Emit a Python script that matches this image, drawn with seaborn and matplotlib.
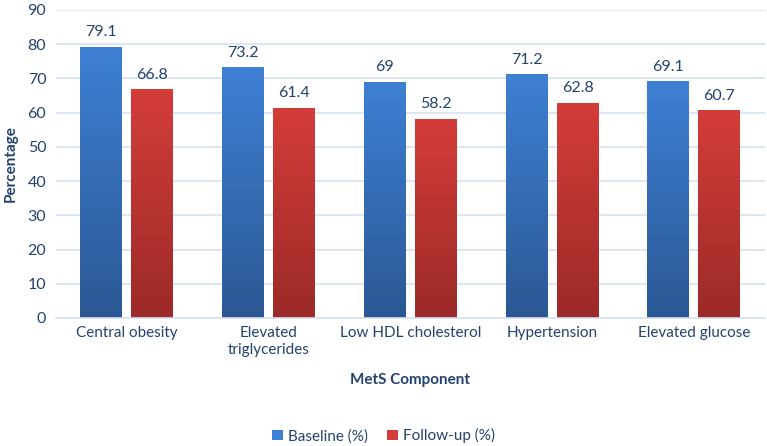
import numpy as np
import pandas as pd
import matplotlib.pyplot as plt
import seaborn as sns
from matplotlib.colors import LinearSegmentedColormap
from matplotlib.patches import Patch

# data
components = ['Central obesity', 'Elevated\ntriglycerides', 'Low HDL cholesterol',
              'Hypertension', 'Elevated glucose']
baseline = [79.1, 73.2, 69.0, 71.2, 69.1]
follow_up = [66.8, 61.4, 58.2, 62.8, 60.7]
baseline_labels = ['79.1', '73.2', '69', '71.2', '69.1']
follow_labels = ['66.8', '61.4', '58.2', '62.8', '60.7']
series = ['Baseline (%)', 'Follow-up (%)']

df = pd.DataFrame({
    'Component': components * 2,
    'Series': [series[0]] * 5 + [series[1]] * 5,
    'Value': baseline + follow_up,
})

sns.set_style('white')
plt.rcParams['font.family'] = ['Lato', 'DejaVu Sans']

text_col = '#24426f'
grid_col = '#d5e2f2'
tops = {series[0]: '#3e80d4', series[1]: '#d43d39'}
bottoms = {series[0]: '#2b5894', series[1]: '#9b2a28'}

fig = plt.figure(figsize=(7.67, 4.46), dpi=100)
ax = fig.add_axes([0.073, 0.287, 0.924, 0.691])

sns.barplot(data=df, x='Component', y='Value', hue='Series',
            palette=[tops[s] for s in series], width=0.72, gap=0.18,
            ax=ax, legend=False, zorder=2)

ax.set_ylim(0, 90)
ax.set_yticks(range(0, 91, 10))
ax.yaxis.grid(True, color=grid_col, linewidth=1.2, zorder=0)
ax.set_axisbelow(True)
for s in ['top', 'right', 'left']:
    ax.spines[s].set_visible(False)
ax.spines['bottom'].set_color(grid_col)
ax.spines['bottom'].set_linewidth(1.2)
ax.tick_params(axis='both', length=0, labelsize=11, labelcolor=text_col, pad=6)
ax.tick_params(axis='y', labelsize=11.5, pad=7)

# gradient fill for each bar
for container, s, labels in zip(ax.containers, series, [baseline_labels, follow_labels]):
    cmap = LinearSegmentedColormap.from_list(s, [bottoms[s], tops[s]])
    grad = np.linspace(0, 1, 256).reshape(-1, 1)
    for bar, lab in zip(container, labels):
        x0, w, h = bar.get_x(), bar.get_width(), bar.get_height()
        bar.set_facecolor('none')
        bar.set_edgecolor('none')
        im = ax.imshow(grad, cmap=cmap, origin='lower', aspect='auto',
                       extent=[x0, x0 + w, 0, h], zorder=2)
        im.set_clip_path(bar)
        ax.annotate(lab, (x0 + w / 2, h), xytext=(0, 5.5), textcoords='offset points',
                    ha='center', va='bottom', fontsize=11.5, color=text_col)

ax.set_xlim(-0.5, 4.5)
ax.set_ylim(0, 90)
ax.set_xlabel('MetS Component', fontsize=11, fontweight='bold', color=text_col, labelpad=12)
ax.set_ylabel('Percentage', fontsize=11, fontweight='bold', color=text_col, labelpad=7)

handles = [Patch(facecolor=tops[s], edgecolor='none') for s in series]
fig.legend(handles, series, loc='lower center', bbox_to_anchor=(0.5, -0.025), ncol=2,
           frameon=False, fontsize=11, handlelength=0.7, handleheight=0.7,
           handletextpad=0.3, columnspacing=1.3, labelcolor=text_col)

fig.savefig('out.png', dpi=100)
